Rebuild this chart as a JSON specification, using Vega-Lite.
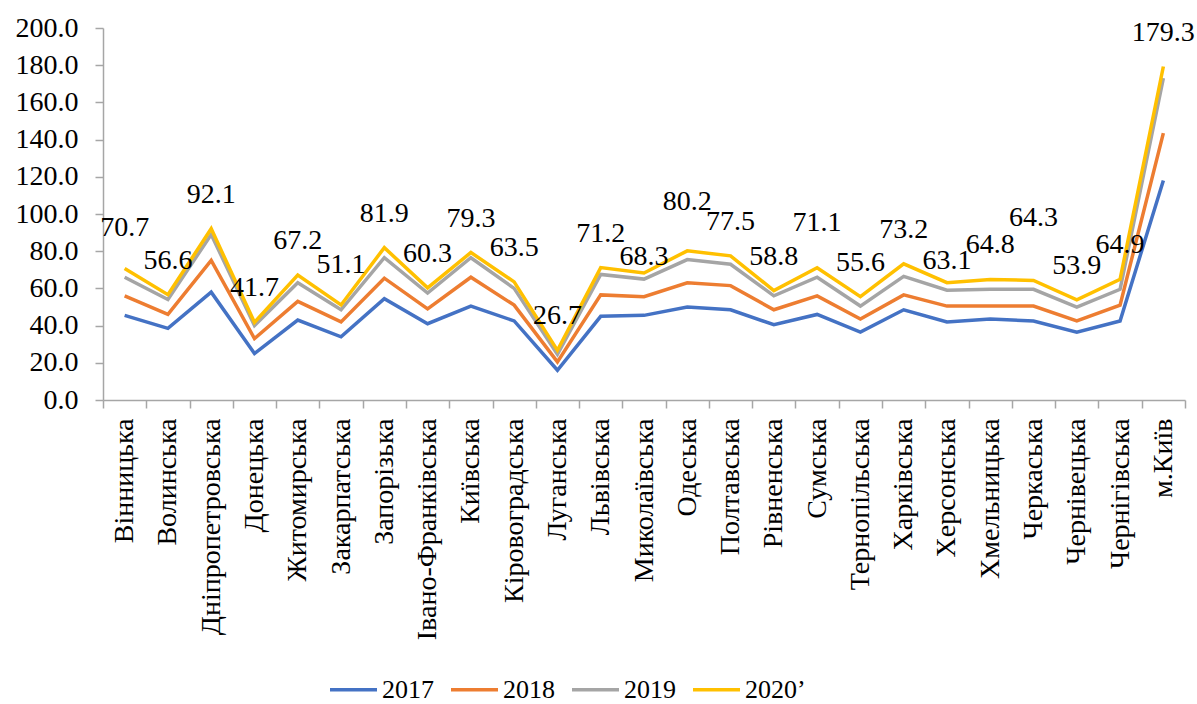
{
  "$schema": "https://vega.github.io/schema/vega-lite/v6.json",
  "autosize": {"type": "none"},
  "width": 1082,
  "height": 372,
  "padding": {"left": 103, "top": 28, "right": 12, "bottom": 304},
  "background": "white",
  "config": {
    "font": "Liberation Serif",
    "view": {"stroke": null},
    "axis": {"labelFont": "Liberation Serif", "labelColor": "black", "domainColor": "#A6A6A6", "tickColor": "#A6A6A6", "domainWidth": 1.5, "tickWidth": 1.5},
    "text": {"baseline": "middle", "align": "center", "fontSize": 28, "font": "Liberation Serif", "color": "black"}
  },
  "datasets": {
    "main": [
      {"region": "Вінницька", "year": "2017", "value": 45.5},
      {"region": "Волинська", "year": "2017", "value": 38.5},
      {"region": "Дніпропетровська", "year": "2017", "value": 58.0},
      {"region": "Донецька", "year": "2017", "value": 25.0},
      {"region": "Житомирська", "year": "2017", "value": 43.0},
      {"region": "Закарпатська", "year": "2017", "value": 34.0},
      {"region": "Запорізька", "year": "2017", "value": 54.5},
      {"region": "Івано-Франківська", "year": "2017", "value": 41.0},
      {"region": "Київська", "year": "2017", "value": 50.5},
      {"region": "Кіровоградська", "year": "2017", "value": 42.5},
      {"region": "Луганська", "year": "2017", "value": 16.0},
      {"region": "Львівська", "year": "2017", "value": 45.0},
      {"region": "Миколаївська", "year": "2017", "value": 45.5},
      {"region": "Одеська", "year": "2017", "value": 50.0},
      {"region": "Полтавська", "year": "2017", "value": 48.5},
      {"region": "Рівненська", "year": "2017", "value": 40.5},
      {"region": "Сумська", "year": "2017", "value": 46.0},
      {"region": "Тернопільська", "year": "2017", "value": 36.5},
      {"region": "Харківська", "year": "2017", "value": 48.5},
      {"region": "Херсонська", "year": "2017", "value": 42.0},
      {"region": "Хмельницька", "year": "2017", "value": 43.5},
      {"region": "Черкаська", "year": "2017", "value": 42.5},
      {"region": "Чернівецька", "year": "2017", "value": 36.5},
      {"region": "Чернігівська", "year": "2017", "value": 42.5},
      {"region": "м.Київ", "year": "2017", "value": 118.0},
      {"region": "Вінницька", "year": "2018", "value": 56.0},
      {"region": "Волинська", "year": "2018", "value": 46.0},
      {"region": "Дніпропетровська", "year": "2018", "value": 75.0},
      {"region": "Донецька", "year": "2018", "value": 33.0},
      {"region": "Житомирська", "year": "2018", "value": 53.0},
      {"region": "Закарпатська", "year": "2018", "value": 42.0},
      {"region": "Запорізька", "year": "2018", "value": 65.5},
      {"region": "Івано-Франківська", "year": "2018", "value": 49.0},
      {"region": "Київська", "year": "2018", "value": 66.0},
      {"region": "Кіровоградська", "year": "2018", "value": 51.0},
      {"region": "Луганська", "year": "2018", "value": 20.5},
      {"region": "Львівська", "year": "2018", "value": 56.5},
      {"region": "Миколаївська", "year": "2018", "value": 55.5},
      {"region": "Одеська", "year": "2018", "value": 63.0},
      {"region": "Полтавська", "year": "2018", "value": 61.5},
      {"region": "Рівненська", "year": "2018", "value": 48.5},
      {"region": "Сумська", "year": "2018", "value": 56.0},
      {"region": "Тернопільська", "year": "2018", "value": 43.5},
      {"region": "Харківська", "year": "2018", "value": 56.5},
      {"region": "Херсонська", "year": "2018", "value": 50.5},
      {"region": "Хмельницька", "year": "2018", "value": 50.5},
      {"region": "Черкаська", "year": "2018", "value": 50.5},
      {"region": "Чернівецька", "year": "2018", "value": 42.5},
      {"region": "Чернігівська", "year": "2018", "value": 51.0},
      {"region": "м.Київ", "year": "2018", "value": 143.5},
      {"region": "Вінницька", "year": "2019", "value": 66.0},
      {"region": "Волинська", "year": "2019", "value": 54.0},
      {"region": "Дніпропетровська", "year": "2019", "value": 89.0},
      {"region": "Донецька", "year": "2019", "value": 40.0},
      {"region": "Житомирська", "year": "2019", "value": 63.0},
      {"region": "Закарпатська", "year": "2019", "value": 48.5},
      {"region": "Запорізька", "year": "2019", "value": 76.5},
      {"region": "Івано-Франківська", "year": "2019", "value": 57.5},
      {"region": "Київська", "year": "2019", "value": 76.5},
      {"region": "Кіровоградська", "year": "2019", "value": 60.0},
      {"region": "Луганська", "year": "2019", "value": 24.5},
      {"region": "Львівська", "year": "2019", "value": 67.5},
      {"region": "Миколаївська", "year": "2019", "value": 65.0},
      {"region": "Одеська", "year": "2019", "value": 75.5},
      {"region": "Полтавська", "year": "2019", "value": 73.0},
      {"region": "Рівненська", "year": "2019", "value": 56.0},
      {"region": "Сумська", "year": "2019", "value": 66.0},
      {"region": "Тернопільська", "year": "2019", "value": 50.5},
      {"region": "Харківська", "year": "2019", "value": 66.5},
      {"region": "Херсонська", "year": "2019", "value": 59.0},
      {"region": "Хмельницька", "year": "2019", "value": 59.5},
      {"region": "Черкаська", "year": "2019", "value": 59.5},
      {"region": "Чернівецька", "year": "2019", "value": 50.0},
      {"region": "Чернігівська", "year": "2019", "value": 59.5},
      {"region": "м.Київ", "year": "2019", "value": 173.0},
      {"region": "Вінницька", "year": "2020’", "value": 70.7},
      {"region": "Волинська", "year": "2020’", "value": 56.6},
      {"region": "Дніпропетровська", "year": "2020’", "value": 92.1},
      {"region": "Донецька", "year": "2020’", "value": 41.7},
      {"region": "Житомирська", "year": "2020’", "value": 67.2},
      {"region": "Закарпатська", "year": "2020’", "value": 51.1},
      {"region": "Запорізька", "year": "2020’", "value": 81.9},
      {"region": "Івано-Франківська", "year": "2020’", "value": 60.3},
      {"region": "Київська", "year": "2020’", "value": 79.3},
      {"region": "Кіровоградська", "year": "2020’", "value": 63.5},
      {"region": "Луганська", "year": "2020’", "value": 26.7},
      {"region": "Львівська", "year": "2020’", "value": 71.2},
      {"region": "Миколаївська", "year": "2020’", "value": 68.3},
      {"region": "Одеська", "year": "2020’", "value": 80.2},
      {"region": "Полтавська", "year": "2020’", "value": 77.5},
      {"region": "Рівненська", "year": "2020’", "value": 58.8},
      {"region": "Сумська", "year": "2020’", "value": 71.1},
      {"region": "Тернопільська", "year": "2020’", "value": 55.6},
      {"region": "Харківська", "year": "2020’", "value": 73.2},
      {"region": "Херсонська", "year": "2020’", "value": 63.1},
      {"region": "Хмельницька", "year": "2020’", "value": 64.8},
      {"region": "Черкаська", "year": "2020’", "value": 64.3},
      {"region": "Чернівецька", "year": "2020’", "value": 53.9},
      {"region": "Чернігівська", "year": "2020’", "value": 64.9},
      {"region": "м.Київ", "year": "2020’", "value": 179.3}
    ]
  },
  "data": {"name": "main"},
  "encoding": {
    "x": {
      "field": "region",
      "type": "nominal",
      "sort": null,
      "bandPosition": 0.5,
      "scale": {"type": "band", "paddingInner": 0, "paddingOuter": 0},
      "axis": {
        "title": null,
        "labelAngle": -90,
        "labelAlign": "right",
        "labelBaseline": "middle",
        "labelFontSize": 28,
        "labelPadding": 10,
        "labelLimit": 0,
        "tickBand": "extent",
        "tickSize": 8,
        "labelOverlap": false
      }
    },
    "y": {
      "field": "value",
      "type": "quantitative",
      "scale": {"domain": [0, 200], "nice": false},
      "axis": {
        "title": null,
        "values": [0, 20, 40, 60, 80, 100, 120, 140, 160, 180, 200],
        "format": ".1f",
        "grid": false,
        "labelFontSize": 28,
        "tickSize": 8,
        "labelPadding": 17
      }
    }
  },
  "layer": [
    {
      "mark": {"type": "line", "strokeWidth": 3.5, "strokeJoin": "miter"},
      "encoding": {
        "color": {
          "field": "year",
          "type": "nominal",
          "scale": {"domain": ["2017", "2018", "2019", "2020’"], "range": ["#4472C4", "#ED7D31", "#A5A5A5", "#FFC000"]},
          "legend": {
            "title": null,
            "orient": "none",
            "direction": "horizontal",
            "legendX": 225,
            "legendY": 636,
            "symbolType": "stroke",
            "symbolSize": 2209,
            "symbolStrokeWidth": 3.5,
            "labelFontSize": 26,
            "labelFont": "Liberation Serif",
            "labelColor": "black",
            "labelOffset": 3,
            "columnPadding": 10,
            "labelLimit": 0
          }
        }
      }
    },
    {
      "transform": [{"filter": "datum.year == '2020’' && indexof(['Черкаська','Одеська','Сумська','Вінницька','Закарпатська','Херсонська','Миколаївська'], datum.region) < 0"}],
      "mark": {"type": "text", "dy": -34},
      "encoding": {"text": {"field": "value", "type": "quantitative", "format": ".1f"}}
    },
    {
      "transform": [{"filter": "datum.year == '2020’' && datum.region == 'Черкаська'"}],
      "mark": {"type": "text", "dy": -62},
      "encoding": {"text": {"field": "value", "type": "quantitative", "format": ".1f"}}
    },
    {
      "transform": [{"filter": "datum.year == '2020’' && datum.region == 'Одеська'"}],
      "mark": {"type": "text", "dy": -49},
      "encoding": {"text": {"field": "value", "type": "quantitative", "format": ".1f"}}
    },
    {
      "transform": [{"filter": "datum.year == '2020’' && datum.region == 'Сумська'"}],
      "mark": {"type": "text", "dy": -45},
      "encoding": {"text": {"field": "value", "type": "quantitative", "format": ".1f"}}
    },
    {
      "transform": [{"filter": "datum.year == '2020’' && (datum.region == 'Вінницька' || datum.region == 'Закарпатська')"}],
      "mark": {"type": "text", "dy": -40},
      "encoding": {"text": {"field": "value", "type": "quantitative", "format": ".1f"}}
    },
    {
      "transform": [{"filter": "datum.year == '2020’' && datum.region == 'Херсонська'"}],
      "mark": {"type": "text", "dy": -22},
      "encoding": {"text": {"field": "value", "type": "quantitative", "format": ".1f"}}
    },
    {
      "transform": [{"filter": "datum.year == '2020’' && datum.region == 'Миколаївська'"}],
      "mark": {"type": "text", "dy": -16},
      "encoding": {"text": {"field": "value", "type": "quantitative", "format": ".1f"}}
    }
  ]
}
